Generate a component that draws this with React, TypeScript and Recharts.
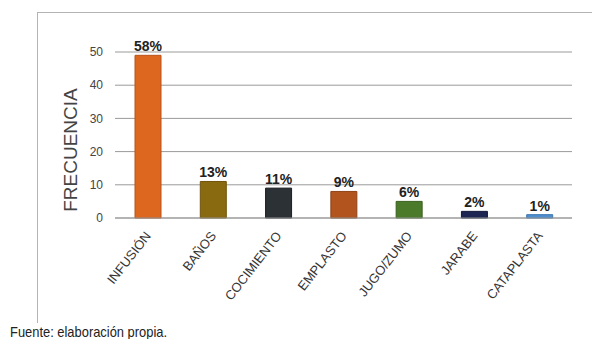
import React from 'react'
import { BarChart, Bar, XAxis, YAxis, CartesianGrid, Cell, LabelList } from 'recharts'

// datos
const categorias = ['INFUSIÓN', 'BAÑOS', 'COCIMIENTO', 'EMPLASTO', 'JUGO/ZUMO', 'JARABE', 'CATAPLASTA']
const frecuencias = [49, 11, 9, 8, 5, 2, 1]
const porcentajes = ['58%', '13%', '11%', '9%', '6%', '2%', '1%']
const colores = ['#DE671F', '#8A6A10', '#2C3136', '#B2541D', '#4B7A2B', '#1D2652', '#4F8FD0']
const bordes = ['#B8531A', '#6E540C', '#1A1E22', '#8E4216', '#3A6021', '#111838', '#3C74AE']
const yTicks = [0, 10, 20, 30, 40, 50]

const data = categorias.map((c, i) => ({ name: c, frecuencia: frecuencias[i], pct: porcentajes[i] }))

const sans = '"Liberation Sans", Arial, sans-serif'

const XTick = (props: any) => {
  const { x, y, payload } = props
  return (
    <text
      x={x + 4}
      y={y + 10}
      transform={`rotate(-52, ${x + 4}, ${y + 10})`}
      textAnchor="end"
      fontSize={13}
      fontFamily={sans}
      fill="#333"
    >
      {payload.value}
    </text>
  )
}

const YLabel = (props: any) => {
  const vb = props.viewBox
  const cx = 70
  const cy = vb.y + vb.height / 2 + 15
  return (
    <text
      x={cx}
      y={cy}
      transform={`rotate(-90, ${cx}, ${cy})`}
      textAnchor="middle"
      dominantBaseline="central"
      fontSize={19}
      fontFamily={sans}
      fill="#444"
    >
      FRECUENCIA
    </text>
  )
}

const App = () => {
  return (
    <div style={{ position: 'relative', width: 592, height: 339, background: '#fff' }}>
      <style>{'body{margin:0}'}</style>
      <div
        style={{
          position: 'absolute',
          top: 12,
          left: 37,
          width: 555,
          height: 310,
          borderTop: '1px solid #b4b4b4',
          borderLeft: '1px solid #b4b4b4',
        }}
      />
      <div style={{ position: 'absolute', top: 0, left: 0 }}>
        <BarChart width={592} height={339} data={data} margin={{ top: 52, right: 20, bottom: 0, left: 60 }}>
          <CartesianGrid vertical={false} stroke="#9a9a9a" />
          <XAxis
            dataKey="name"
            interval={0}
            height={121}
            tickLine={false}
            axisLine={{ stroke: '#9a9a9a' }}
            tick={<XTick />}
          />
          <YAxis
            domain={[0, 50]}
            ticks={yTicks}
            width={55}
            tickLine={false}
            axisLine={false}
            tickMargin={6}
            tick={{ fontSize: 12, fill: '#444', fontFamily: sans }}
            label={<YLabel />}
          />
          <Bar dataKey="frecuencia" barSize={26} isAnimationActive={false}>
            {data.map((d, i) => (
              <Cell key={d.name} fill={colores[i]} stroke={bordes[i]} strokeWidth={1} />
            ))}
            <LabelList
              dataKey="pct"
              position="top"
              offset={4}
              fontSize={14}
              fontWeight="bold"
              fill="#222"
              fontFamily={sans}
            />
          </Bar>
        </BarChart>
      </div>
      <div
        style={{
          position: 'absolute',
          top: 323,
          left: 10,
          fontSize: 15,
          color: '#222',
          fontFamily: sans,
          whiteSpace: 'nowrap',
          transform: 'scaleX(0.86)',
          transformOrigin: 'left top',
        }}
      >
        Fuente: elaboración propia.
      </div>
    </div>
  )
}

export default App
